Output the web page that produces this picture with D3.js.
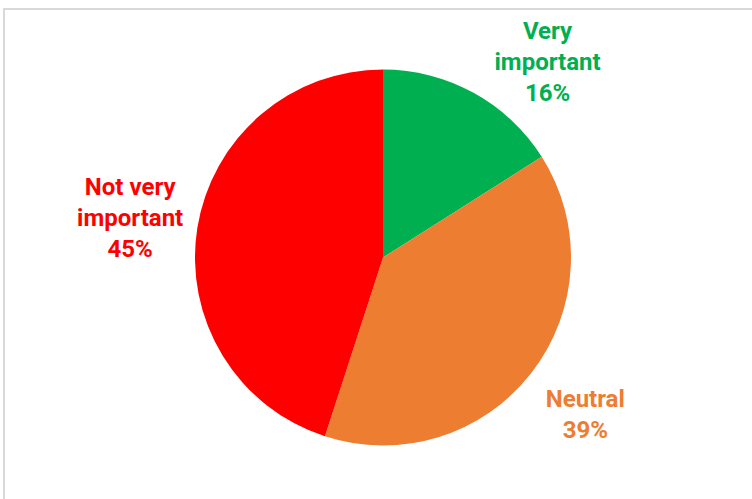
<!DOCTYPE html>
<html>
<head>
<meta charset="utf-8">
<script src="https://cdn.jsdelivr.net/npm/d3@7"></script>
<style>
  body { margin: 0; background: #fff; }
  svg text { font-family: "Roboto", "Liberation Sans", sans-serif; font-weight: bold; }
</style>
</head>
<body>
<div id="chart"></div>
<script>
const width = 752, height = 499;

const categories = ["Very important", "Neutral", "Not very important"];
const values = [16, 39, 45];
const labelLines = [["Very", "important", "16%"], ["Neutral", "39%"], ["Not very", "important", "45%"]];
const colors = ["#00b050", "#ed7d31", "#ff0000"];

const cx = 383, cy = 257.5, radius = 188;
const labelRadius = 256, lineHeight = 31, fontSize = 24, topPad = 22;

const svg = d3.select("#chart")
    .append("svg")
    .attr("width", width)
    .attr("height", height);

// chart frame, runs off the right and bottom edges
svg.append("rect")
    .attr("x", 4)
    .attr("y", 9)
    .attr("width", width + 10)
    .attr("height", height + 10)
    .attr("fill", "none")
    .attr("stroke", "#d9d9d9")
    .attr("stroke-width", 2);

const pie = d3.pie().sort(null).value(d => d);
const arcs = pie(values);
const arc = d3.arc().innerRadius(0).outerRadius(radius);
const labelArc = d3.arc().innerRadius(labelRadius).outerRadius(labelRadius);

const g = svg.append("g").attr("transform", "translate(" + cx + "," + cy + ")");

g.selectAll("path")
    .data(arcs)
    .enter().append("path")
    .attr("d", arc)
    .attr("fill", (d, i) => colors[i]);

// place label on the label circle, pushed down along it if it would leave the frame
function labelPos(d, i) {
    let [x, y] = labelArc.centroid(d);
    const half = (labelLines[i].length - 1) / 2 * lineHeight + fontSize * 0.35;
    const minY = -cy + topPad + half;
    if (y < minY) {
        y = minY;
        x = Math.sign(x) * Math.sqrt(labelRadius * labelRadius - y * y);
    }
    return [x, y];
}

const labels = g.selectAll("text.label")
    .data(arcs)
    .enter().append("text")
    .attr("class", "label")
    .attr("text-anchor", "middle")
    .attr("font-size", fontSize)
    .attr("fill", (d, i) => colors[i])
    .attr("transform", (d, i) => "translate(" + labelPos(d, i) + ")");

labels.each(function (d, i) {
    const lines = labelLines[i];
    const start = -(lines.length - 1) / 2 * lineHeight;
    d3.select(this).selectAll("tspan")
        .data(lines)
        .enter().append("tspan")
        .attr("x", 0)
        .attr("y", (l, j) => start + j * lineHeight)
        .attr("dy", "0.35em")
        .text(l => l);
});
</script>
</body>
</html>
